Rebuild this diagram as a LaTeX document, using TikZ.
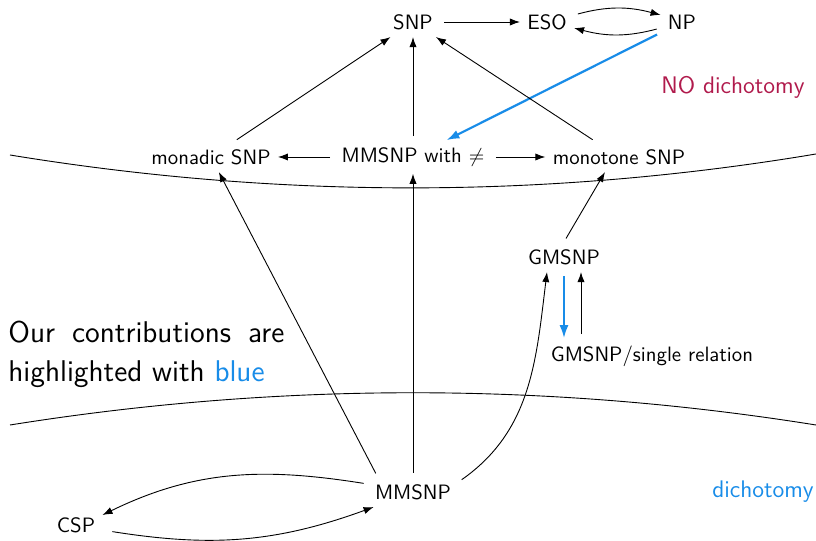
\documentclass[tikz,border=0pt]{standalone}
\usepackage{fontspec}
\usetikzlibrary{arrows.meta}
\renewcommand{\familydefault}{\sfdefault}
\definecolor{hlblue}{RGB}{24,140,232}
\definecolor{nored}{RGB}{176,26,76}
\begin{document}
\begin{tikzpicture}[x=0.5pt,y=0.5pt,
  every node/.style={font=\fontsize{10.4}{12.5}\selectfont, inner sep=3.5pt},
  bigtext/.style={font=\fontsize{12}{14}\selectfont},
  arr/.style={line width=0.45pt, shorten <=2pt, -{Latex[length=5pt,width=3.6pt]}},
  bluearr/.style={line width=1.1pt, draw=hlblue, shorten <=2pt, -{Latex[length=6.5pt,width=4.5pt]}},
  border/.style={line width=0.45pt}]
\useasboundingbox (0,0) rectangle (816,541);

% region borders
\draw[border] (10,386) .. controls (279,342) and (547,342) .. (816,387);
\draw[border] (10,116) .. controls (279,159) and (547,159) .. (816,116);

% classes
\node (SNP) at (413,519) {SNP};
\node (ESO) at (547,519) {ESO};
\node (NP) at (682,519) {NP};
\node (monadic) at (211,384) {monadic SNP};
\node (mmsnpw) at (413,384) {MMSNP with $\neq$};
\node (monotone) at (619,384) {monotone SNP};
\node (gmsnp) at (564,284) {GMSNP};
\node (gsingle) at (652,185) {GMSNP/single relation};
\node (mmsnp) at (413,49) {MMSNP};
\node (csp) at (76,16) {CSP};

% labels
\node[bigtext, text=nored] (nodich) at (733,454) {NO dichotomy};
\node[bigtext, text=hlblue] (dich) at (763,49) {dichotomy};
\node[anchor=west, inner sep=0pt, font=\fontsize{15}{19.5}\selectfont] (note) at (8,187)
  {\parbox{138pt}{Our contributions are\linebreak highlighted with \textcolor{hlblue}{blue}}};

% top layer
\draw[arr] (SNP) -- (ESO);
\draw[arr] ([yshift=3.5pt]ESO.east) to[bend left=15] ([yshift=3.5pt]NP.west);
\draw[arr] ([yshift=-3pt]NP.west) to[bend left=15] ([yshift=-3pt]ESO.east);
\draw[bluearr] (NP) -- (mmsnpw);

% middle layer
\draw[arr] (monadic) -- (SNP);
\draw[arr] (mmsnpw) -- (SNP);
\draw[arr] (monotone) -- (SNP);
\draw[arr] (mmsnpw) -- (monadic);
\draw[arr] (mmsnpw) -- (monotone);
\draw[arr] (gmsnp.north) -- ([xshift=-7pt]monotone.south);
\draw[bluearr] (gmsnp.south) -- (gmsnp.south |- gsingle.north);
\draw[arr] ([xshift=8.5pt]gmsnp.south |- gsingle.north) -- ([xshift=8.5pt]gmsnp.south);

% bottom layer
\draw[arr] ([xshift=5pt]mmsnp.north west) -- (monadic);
\draw[arr] (mmsnp) -- (mmsnpw);
\draw[arr] ([yshift=5pt]mmsnp.east) to[out=35,in=-97] ([xshift=-8.5pt]gmsnp.south);
\draw[arr] ([yshift=4pt]mmsnp.west) to[out=171,in=26] ([yshift=5pt]csp.east);
\draw[arr] ([yshift=-3pt,xshift=3pt]csp.east) to[out=-9,in=200] ([xshift=3pt]mmsnp.south west);
\end{tikzpicture}
\end{document}
